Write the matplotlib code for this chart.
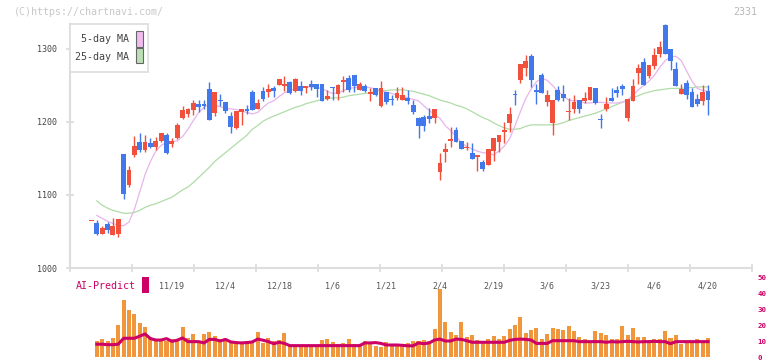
import matplotlib
matplotlib.use('Agg')
import numpy as np
import matplotlib.pyplot as plt
from matplotlib.patches import Rectangle
from matplotlib.transforms import blended_transform_factory

# candles: red = close >= open, blue = close < open
opens = [1064, 1061, 1047, 1060, 1045, 1047, 1156, 1113, 1155, 1172, 1162, 1171, 1166, 1174, 1182, 1170,
         1178, 1205, 1211, 1216, 1225, 1225, 1245, 1212, 1230, 1227, 1208, 1192, 1214, 1218, 1241, 1218,
         1242, 1241, 1246, 1251, 1249, 1255, 1242, 1249, 1247, 1252, 1252, 1252, 1231, 1248, 1238, 1255,
         1260, 1264, 1244, 1249, 1238, 1247, 1222, 1241, 1231, 1233, 1230, 1233, 1223, 1205, 1207, 1208,
         1205, 1131, 1159, 1174, 1189, 1174, 1164, 1157, 1152, 1145, 1141, 1160, 1173, 1186, 1199, 1238,
         1257, 1274, 1290, 1244, 1264, 1227, 1199, 1244, 1238, 1214, 1218, 1230, 1229, 1230, 1247, 1204,
         1218, 1233, 1244, 1249, 1206, 1229, 1267, 1282, 1263, 1277, 1293, 1333, 1300, 1273, 1238, 1253,
         1241, 1232, 1229, 1243]
closes = [1064, 1047, 1055, 1052, 1057, 1067, 1101, 1134, 1167, 1162, 1172, 1166, 1174, 1185, 1157, 1174,
          1196, 1216, 1218, 1226, 1220, 1222, 1203, 1241, 1229, 1215, 1193, 1215, 1218, 1215, 1216, 1226,
          1232, 1245, 1242, 1259, 1252, 1240, 1259, 1242, 1249, 1248, 1245, 1229, 1236, 1247, 1251, 1257,
          1244, 1249, 1252, 1242, 1241, 1237, 1247, 1227, 1230, 1240, 1237, 1229, 1214, 1194, 1194, 1204,
          1218, 1144, 1163, 1177, 1173, 1163, 1166, 1149, 1155, 1136, 1163, 1178, 1182, 1189, 1211, 1237,
          1280, 1284, 1257, 1241, 1240, 1237, 1230, 1230, 1233, 1215, 1227, 1218, 1233, 1248, 1226, 1203,
          1225, 1229, 1240, 1245, 1232, 1249, 1274, 1251, 1278, 1292, 1303, 1293, 1284, 1249, 1245, 1237,
          1221, 1225, 1241, 1230]
highs = [1064, 1066, 1058, 1063, 1068, 1067, 1156, 1140, 1181, 1185, 1182, 1178, 1179, 1185, 1185, 1178,
         1199, 1222, 1219, 1230, 1230, 1230, 1255, 1241, 1238, 1227, 1214, 1215, 1218, 1223, 1244, 1232,
         1248, 1252, 1249, 1259, 1263, 1256, 1260, 1256, 1249, 1257, 1252, 1252, 1244, 1248, 1252, 1263,
         1264, 1264, 1255, 1252, 1247, 1247, 1256, 1241, 1237, 1248, 1248, 1244, 1230, 1207, 1210, 1219,
         1218, 1157, 1171, 1193, 1193, 1174, 1173, 1171, 1155, 1148, 1163, 1178, 1182, 1200, 1220, 1244,
         1280, 1292, 1293, 1252, 1267, 1244, 1230, 1249, 1251, 1233, 1237, 1230, 1241, 1248, 1247, 1211,
         1234, 1247, 1249, 1252, 1232, 1259, 1280, 1288, 1278, 1301, 1311, 1334, 1300, 1282, 1252, 1258,
         1247, 1238, 1251, 1251]
lows = [1064, 1045, 1046, 1048, 1045, 1043, 1095, 1111, 1152, 1159, 1159, 1164, 1162, 1172, 1156, 1166,
        1177, 1204, 1207, 1210, 1214, 1218, 1203, 1208, 1222, 1212, 1185, 1190, 1196, 1211, 1216, 1218,
        1229, 1234, 1234, 1251, 1242, 1238, 1241, 1237, 1240, 1244, 1234, 1229, 1230, 1230, 1230, 1241,
        1241, 1241, 1244, 1241, 1229, 1236, 1220, 1225, 1223, 1230, 1230, 1225, 1211, 1178, 1188, 1199,
        1199, 1120, 1145, 1166, 1173, 1163, 1162, 1149, 1133, 1133, 1141, 1147, 1159, 1171, 1186, 1223,
        1253, 1263, 1248, 1225, 1240, 1222, 1182, 1229, 1229, 1203, 1212, 1212, 1226, 1230, 1225, 1192,
        1215, 1229, 1234, 1237, 1201, 1229, 1252, 1251, 1260, 1273, 1289, 1293, 1271, 1249, 1238, 1232,
        1221, 1222, 1223, 1210]

ma5 = [None, 1072, 1068, 1064, 1061, 1058, 1058, 1063, 1080, 1104, 1128, 1146, 1160, 1168, 1172, 1173,
       1174, 1180, 1190, 1202, 1213, 1220, 1225, 1223, 1221, 1219, 1218, 1217, 1215, 1213, 1211, 1213,
       1220, 1226, 1229, 1235, 1240, 1243, 1246, 1247, 1248, 1248, 1247, 1246, 1242, 1239, 1240, 1243,
       1246, 1247, 1248, 1248, 1247, 1245, 1243, 1241, 1239, 1237, 1235, 1233, 1231, 1229, 1222, 1216,
       1210, 1205, 1195, 1188, 1180, 1172, 1166, 1163, 1160, 1158, 1157, 1155, 1160, 1167, 1177, 1195,
       1214, 1232, 1245, 1255, 1260, 1257, 1250, 1242, 1236, 1230, 1229, 1229, 1226, 1226, 1227, 1227,
       1226, 1226, 1226, 1227, 1230, 1237, 1244, 1250, 1256, 1264, 1275, 1284, 1289, 1290, 1284, 1270,
       1256, 1246, 1243, 1242]
ma25 = [None, 1092, 1086, 1082, 1079, 1077, 1075, 1075, 1076, 1079, 1083, 1086, 1088, 1091, 1094, 1097,
        1102, 1107, 1111, 1117, 1124, 1131, 1138, 1146, 1152, 1158, 1164, 1170, 1176, 1182, 1190, 1195,
        1201, 1205, 1208, 1211, 1214, 1217, 1220, 1222, 1225, 1227, 1229, 1231, 1232, 1233, 1233, 1234,
        1236, 1237, 1238, 1239, 1240, 1242, 1243, 1243, 1244, 1244, 1244, 1243, 1242, 1240, 1238, 1236,
        1233, 1230, 1228, 1226, 1223, 1221, 1218, 1214, 1210, 1206, 1203, 1199, 1195, 1192, 1190, 1190,
        1191, 1194, 1196, 1196, 1196, 1196, 1196, 1197, 1199, 1202, 1204, 1206, 1208, 1210, 1212, 1215,
        1218, 1221, 1224, 1227, 1230, 1233, 1236, 1239, 1241, 1243, 1244, 1245, 1246, 1246, 1246, 1247,
        1247, 1248, 1248, 1248]

# AI-Predict panel
volume = [None, 10, 11.2, 10, 11.9, 20, 35.6, 29.4, 26.9, 21.2, 18.8, 12.5, 11.2, 11.2, 10, 11.2,
          10.6, 18.8, 11.9, 14.4, 8.8, 14.4, 15.6, 13.1, 11.2, 10, 10, 8.8, 8.8, 10, 8.8, 15.6,
          8.8, 12, 10, 10.5, 15, 7.5, 7.5, 7, 6, 7.5, 7.5, 10.5, 11, 9.5, 8, 9,
          11.5, 8, 8, 10, 9, 7, 6, 9.5, 8, 8, 8, 9, 10, 10, 10.5, 10,
          17.5, 42.5, 22, 15.5, 13.5, 22, 12.5, 13.5, 10.5, 9, 11, 13, 11, 13, 17.5, 20,
          25, 15, 17, 18, 11.5, 14.5, 18, 17.5, 17, 19.5, 16, 12.5, 11.5, 9, 16, 15,
          14, 11.5, 11.5, 19.5, 14, 18, 12.5, 12.5, 10.5, 11.5, 11, 16, 12, 14, 8, 9.5,
          9.5, 11.5, 9.5, 12]
ai_line = [None, 8, 8, 7.7, 7.7, 8, 11.7, 11.7, 11.7, 13, 14.4, 11.5, 10.6, 10.6, 11.5, 9.8,
           10.5, 11.9, 9.6, 9.6, 9.6, 8.8, 11, 11, 10, 11, 9.4, 9, 8.8, 9, 9.4, 11.2,
           10.5, 9.6, 8.3, 9.2, 8.5, 7.1, 7.1, 7.1, 7.1, 7.1, 7.1, 7.1, 7.1, 7.1, 7.1, 7.1,
           7.1, 7.1, 7.1, 8.8, 8.8, 9, 8.5, 7.5, 7.5, 7.5, 7.3, 7, 7, 8.8, 8.3, 8.8,
           10.6, 11.2, 10, 10, 11.2, 11, 10.2, 9.2, 9.2, 9.2, 9.2, 9.2, 9.2, 9.2, 10.4, 11,
           11.2, 11, 10.6, 8.5, 8.5, 8.5, 10.2, 10.2, 10.2, 10.2, 10.2, 9.6, 9.6, 9.6, 9.6, 9.6,
           9.2, 9.6, 9.4, 9.6, 9.8, 9.6, 9.4, 9.6, 9.6, 9.8, 9.6, 9.6, 8.3, 9.6, 9.6, 9.6,
           9.6, 9.6, 9.6, 9.6]

date_labels = ['11/19', '12/4', '12/18', '1/6', '1/21', '2/4', '2/19', '3/6', '3/23', '4/6', '4/20']
date_index = [15, 25, 35, 45, 55, 65, 75, 85, 95, 105, 115]

RED = '#f0503c'
BLUE = '#4178ec'
ORANGE = '#f0963c'
MAGENTA = '#cc0066'
GRID = '#dddddd'
MONO = 'DejaVu Sans Mono'

W, H = 772, 361
def fx(px):
  return px / W
def fy(py):
  return 1 - py / H

fig = plt.figure(figsize=(W / 100, H / 100), dpi=100)
ax = fig.add_axes([fx(70), fy(268), 682 / W, 244 / H])
axv = fig.add_axes([fx(70), fy(357), 682 / W, 80 / H])
axv.patch.set_visible(False)

n = len(opens)
xs = np.arange(n)
o = np.array(opens, float)
c = np.array(closes, float)
hi = np.array(highs, float)
lo = np.array(lows, float)
cols = [RED if cc >= oo else BLUE for oo, cc in zip(o, c)]

# moving averages
ax.plot(xs, np.array(ma25, dtype=float), color='#b0dca8', lw=0.9, zorder=2)
ax.plot(xs, np.array(ma5, dtype=float), color='#e8b4ec', lw=0.9, zorder=2)

# candles
ax.vlines(xs, lo, hi, colors=cols, lw=1.0, zorder=3)
bot = np.minimum(o, c)
hgt = np.maximum(np.abs(c - o), 1.4)
ax.bar(xs, hgt, bottom=bot, width=0.9, color=cols, linewidth=0, zorder=4)

x0, x1 = -4.0, 123.2
ax.set_xlim(x0, x1)
ax.set_ylim(1000, 1334.2)
for s in ['top', 'right']:
  ax.spines[s].set_visible(False)
for s in ['left', 'bottom']:
  ax.spines[s].set_color(GRID)
  ax.spines[s].set_linewidth(1.5)
ax.set_yticks([1000, 1100, 1200, 1300])
ax.set_xticks(np.linspace(x0, x1, 12))
ax.set_xticklabels([])
ax.tick_params(axis='both', direction='inout', length=6, width=1.3, color=GRID)
ax.tick_params(axis='y', labelsize=6, labelcolor='#444444', pad=6)
for lab in ax.get_yticklabels():
  lab.set_family(MONO)

trans = blended_transform_factory(ax.transData, ax.transAxes)
for idx, lab in zip(date_index, date_labels):
  ax.text(idx, -0.074, lab, transform=trans, ha='center', va='center',
          fontsize=6, family=MONO, color='#555555', zorder=10)

# AI-Predict volume panel
axv.bar(xs, np.array(volume, dtype=float), width=0.75, color=ORANGE, linewidth=0, zorder=2)
axv.plot(xs, np.array(ai_line, dtype=float), color=MAGENTA, lw=2.2, zorder=3)
axv.set_xlim(x0, x1)
axv.set_ylim(0, 50)
for s in axv.spines.values():
  s.set_visible(False)
axv.set_xticks([])
axv.yaxis.tick_right()
axv.set_yticks([0, 10, 20, 30, 40, 50])
axv.tick_params(axis='y', length=0, pad=4, labelsize=5.3, labelcolor=MAGENTA)
for lab in axv.get_yticklabels():
  lab.set_family(MONO)
  lab.set_fontweight('bold')

fig.text(fx(76), fy(286), 'AI-Predict', ha='left', va='center', fontsize=7.2,
         family=MONO, color=MAGENTA)
fig.patches.append(Rectangle((fx(142), fy(293)), 7 / W, 16 / H, transform=fig.transFigure,
                             facecolor=MAGENTA, edgecolor='none'))

# legend box
fig.patches.append(Rectangle((fx(70), fy(72)), 78 / W, 48 / H, transform=fig.transFigure,
                             facecolor='white', edgecolor=GRID, lw=1.2, zorder=5))
fig.patches.append(Rectangle((fx(136), fy(46.5)), 6.5 / W, 15.5 / H, transform=fig.transFigure,
                             facecolor='#f0bcf0', edgecolor='#666666', lw=0.8, zorder=6))
fig.patches.append(Rectangle((fx(136), fy(63)), 6.5 / W, 15 / H, transform=fig.transFigure,
                             facecolor='#bce0b4', edgecolor='#666666', lw=0.8, zorder=6))
fig.text(fx(129), fy(39.5), '5-day MA', ha='right', va='center', fontsize=7.2,
         family=MONO, color='#444444', zorder=7)
fig.text(fx(129), fy(56.5), '25-day MA', ha='right', va='center', fontsize=7.2,
         family=MONO, color='#444444', zorder=7)

# watermark and code
fig.text(fx(14), fy(12), '(C)https://chartnavi.com/', ha='left', va='center', fontsize=7.2,
         family=MONO, color='#c8c8c8')
fig.text(fx(757), fy(12), '2331', ha='right', va='center', fontsize=7.2,
         family=MONO, color='#b8b8b8')

fig.savefig('out.png', dpi=100)
